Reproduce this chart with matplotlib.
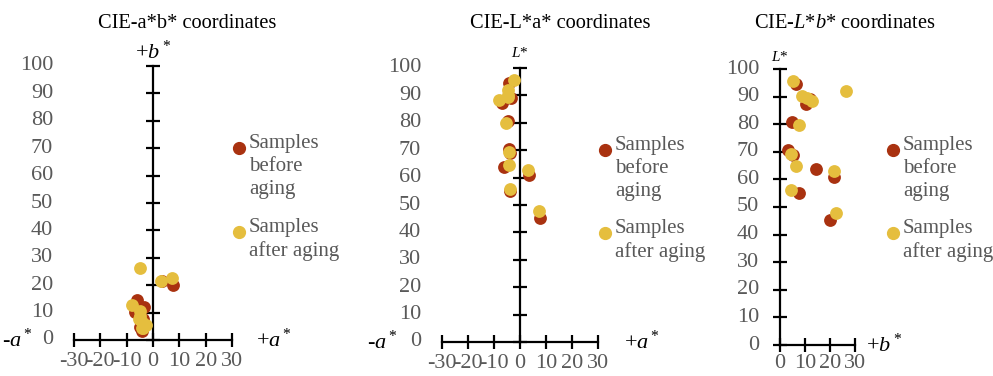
import numpy as np
import matplotlib
matplotlib.use('Agg')
import matplotlib.pyplot as plt
from matplotlib.lines import Line2D

# CIE values, before and after aging
a_before = [-4.4, -7.0, -3.5, -4.8, -4.1, -4.0, -6.1, 3.6, -3.7, 7.7]
b_before = [6.3, 10.3, 12.0, 4.7, 3.3, 5.3, 14.5, 21.7, 7.7, 20.0]
L_before = [94.7, 87.4, 89.0, 80.8, 70.5, 68.9, 63.8, 61.0, 55.2, 45.3]

a_after = [-2.5, -4.8, -4.8, -8.0, -4.8, -5.4, -4.1, -4.1, 3.1, -3.7, 7.3]
b_after = [5.3, 8.9, 10.7, 12.8, 26.4, 7.6, 4.4, 6.4, 21.7, 4.4, 22.5]
L_after = [95.5, 90.1, 89.5, 88.4, 92.1, 79.8, 69.3, 64.7, 62.9, 56.0, 47.9]

y_ticks = list(range(0, 101, 10))
x_ticks_ab = [-30, -20, -10, 0, 10, 20, 30]
x_ticks_b = [0, 10, 20, 30]

titles = ['CIE-a*b* coordinates', 'CIE-L*a* coordinates', 'CIE-$L$*$b$* coordinates']
legend_labels = ['Samples\nbefore\naging', 'Samples\nafter aging']

RED = '#A93210'
YELLOW = '#E5BE3E'
GRAY = '#595959'
TICK_FS = 16

W, H = 993.0, 376.0

plt.rcParams['font.family'] = 'Liberation Serif'
plt.rcParams['axes.unicode_minus'] = False
plt.rcParams['mathtext.fontset'] = 'custom'
plt.rcParams['mathtext.rm'] = 'Liberation Serif'
plt.rcParams['mathtext.it'] = 'Liberation Serif:italic'


def px_axes(fig, x0, x1, y_top, y_bot):
	# axes box in pixel coords of the reference
	return fig.add_axes([x0 / W, 1 - y_bot / H, (x1 - x0) / W, (y_bot - y_top) / H])


def setup(ax, xlim, xticks):
	ax.set_xlim(xlim)
	ax.set_ylim(0, 100)
	for s in ['top', 'right']:
		ax.spines[s].set_visible(False)
	ax.spines['left'].set_position(('data', 0))
	ax.spines['bottom'].set_position(('data', 0))
	ax.spines['left'].set_linewidth(1.6)
	ax.spines['bottom'].set_linewidth(1.6)
	ax.set_xticks(xticks)
	ax.set_yticks(y_ticks)
	ax.tick_params(axis='both', direction='inout', length=9.5, width=1.6, color='black')
	ax.tick_params(axis='x', labelsize=TICK_FS, labelcolor=GRAY, pad=4)
	ax.tick_params(axis='y', labelleft=False)
	ax.patch.set_visible(False)
	# y labels sit at the left edge of the plot, not on the zero axis
	for v in y_ticks:
		ax.annotate(str(v), xy=(0, v), xycoords=('axes fraction', 'data'),
			xytext=(-15, 0), textcoords='offset points', ha='right', va='center',
			fontsize=TICK_FS, color=GRAY)


def scatter(ax, xb, yb, xa, ya):
	ax.scatter(xb, yb, s=85, color=RED, zorder=3, clip_on=False, linewidths=0)
	ax.scatter(xa, ya, s=85, color=YELLOW, zorder=4, clip_on=False, linewidths=0)


def legend(fig, x, y_first, y_second):
	for (yy, col, lab) in [(y_first, RED, legend_labels[0]), (y_second, YELLOW, legend_labels[1])]:
		fig.add_artist(Line2D([x / W], [1 - yy / H], marker='o', markersize=8.5,
			color=col, linestyle='none', transform=fig.transFigure))
		fig.text((x + 10) / W, 1 - (yy - 14) / H, lab, fontsize=15, color=GRAY,
			va='top', ha='left', linespacing=1.28)


def main():
	fig = plt.figure(figsize=(W / 100, H / 100), dpi=100)

	# panel 1: a* vs b*
	ax1 = px_axes(fig, 74, 232, 66, 340)
	setup(ax1, (-30, 30), x_ticks_ab)
	scatter(ax1, a_before, b_before, a_after, b_after)
	ax1.text(0, 1.05, '+$b^*$', transform=ax1.get_xaxis_transform(), ha='center', va='center', fontsize=16)
	ax1.annotate('-$a^*$', xy=(0, 0), xycoords=('axes fraction', 'data'), xytext=(-30, 0),
		textcoords='offset points', ha='right', va='center', fontsize=16)
	ax1.annotate('+$a^*$', xy=(1, 0), xycoords=('axes fraction', 'data'), xytext=(17, 0),
		textcoords='offset points', ha='left', va='center', fontsize=16)
	fig.text(187 / W, 1 - 23 / H, titles[0], ha='center', va='center', fontsize=14.7)
	legend(fig, 239, 148, 232)

	# panel 2: a* vs L*
	ax2 = px_axes(fig, 442, 598, 68, 342)
	setup(ax2, (-30, 30), x_ticks_ab)
	scatter(ax2, a_before, L_before, a_after, L_after)
	ax2.text(0, 1.055, '$L$*', transform=ax2.get_xaxis_transform(), ha='center', va='center', fontsize=11)
	ax2.annotate('-$a^*$', xy=(0, 0), xycoords=('axes fraction', 'data'), xytext=(-32, 0),
		textcoords='offset points', ha='right', va='center', fontsize=16)
	ax2.annotate('+$a^*$', xy=(1, 0), xycoords=('axes fraction', 'data'), xytext=(19, 0),
		textcoords='offset points', ha='left', va='center', fontsize=16)
	fig.text(560 / W, 1 - 23 / H, titles[1], ha='center', va='center', fontsize=14.7)
	legend(fig, 605, 150, 233)

	# panel 3: b* vs L*
	ax3 = px_axes(fig, 780, 855, 69, 345)
	setup(ax3, (0, 30), x_ticks_b)
	ax3.tick_params(axis='x', pad=2)
	scatter(ax3, b_before, L_before, b_after, L_after)
	ax3.text(0, 1.045, '$L$*', transform=ax3.get_xaxis_transform(), ha='center', va='center', fontsize=11)
	ax3.annotate('+$b^*$', xy=(1, 0), xycoords=('axes fraction', 'data'), xytext=(8, 0),
		textcoords='offset points', ha='left', va='center', fontsize=16)
	fig.text(845 / W, 1 - 24 / H, titles[2], ha='center', va='center', fontsize=14.7)
	legend(fig, 893, 150, 233)

	fig.savefig('out.png', dpi=100)


if __name__ == '__main__':
	main()
